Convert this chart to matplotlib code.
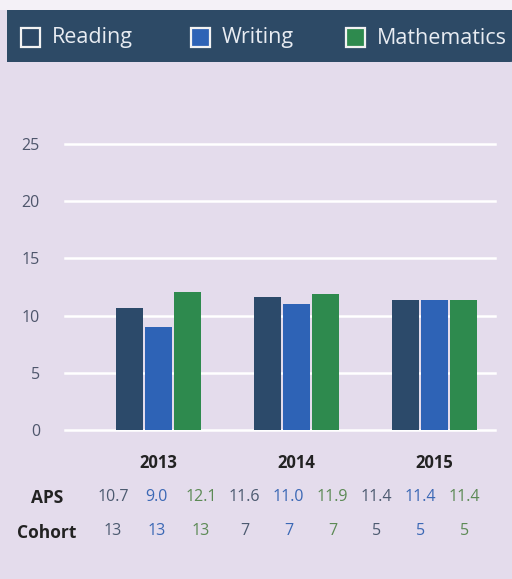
import matplotlib.pyplot as plt
from matplotlib.patches import Rectangle, FancyBboxPatch
import numpy as np

years = ['2013', '2014', '2015']
subjects = ['Reading', 'Writing', 'Mathematics']
reading = [10.7, 11.6, 11.4]
writing = [9.0, 11.0, 11.4]
maths = [12.1, 11.9, 11.4]
cohort_reading = [13, 7, 5]
cohort_writing = [13, 7, 5]
cohort_maths = [13, 7, 5]

bar_colors = ['#2c4a6a', '#2e63b6', '#2e8a4e']
text_colors = ['#4c5a70', '#3b68b5', '#5c8a55']
BG = '#e4dcec'
HEADER = '#2d4a66'

plt.rcParams['font.family'] = ['Open Sans', 'DejaVu Sans']

W, H = 512, 579
fig = plt.figure(figsize=(W / 100, H / 100), dpi=100)
fig.patch.set_facecolor(BG)


def fx(px):
    return px / W


def fy(py):
    return 1 - py / H


# top white strip and header band
fig.patches.append(Rectangle((0, fy(10)), 1, 1 - fy(10), transform=fig.transFigure,
                             facecolor='#f4f1f7', edgecolor='none', zorder=0))
fig.patches.append(FancyBboxPatch((fx(7), fy(62)), fx(520) - fx(7), fy(10) - fy(62),
                                  boxstyle='round,pad=0,rounding_size=0.02',
                                  transform=fig.transFigure, facecolor=HEADER,
                                  edgecolor='none', zorder=1))
fig.patches.append(Rectangle((fx(7), fy(40)), fx(520) - fx(7), fy(10) - fy(40),
                             transform=fig.transFigure, facecolor=HEADER,
                             edgecolor='none', zorder=1))
fig.patches.append(Rectangle((fx(7), fy(62)), fx(40) - fx(7), fy(10) - fy(62),
                             transform=fig.transFigure, facecolor=HEADER,
                             edgecolor='none', zorder=1))

# legend in the header
leg_x = [21, 191, 346]
sq_fill = ['#2c4866', bar_colors[1], bar_colors[2]]
for lx, name, fc in zip(leg_x, subjects, sq_fill):
    fig.patches.append(Rectangle((fx(lx), fy(47)), fx(19), 19 / H, transform=fig.transFigure,
                                 facecolor=fc, edgecolor='#f2f2f2', linewidth=1.6, zorder=2))
    fig.text(fx(lx + 31), fy(38), name, color='#e8ecf2', fontsize=15.5,
             va='center', ha='left', zorder=3)

# bar plot
ax = fig.add_axes([fx(65), fy(430), fx(495) - fx(65), fy(144) - fy(430)])
ax.set_facecolor('none')
x = np.arange(len(years))
w = 0.195
step = 0.21
for i, vals in enumerate([reading, writing, maths]):
    ax.bar(x + (i - 1) * step, vals, width=w, color=bar_colors[i], zorder=3)

ax.set_ylim(0, 25)
ax.set_xlim(-0.674, 2.44)
for v in range(0, 30, 5):
    ax.axhline(v, color='white', linewidth=1.8, zorder=1, clip_on=False)
ax.set_yticks(range(0, 30, 5))
ax.tick_params(axis='y', length=0, pad=18, labelsize=11.5, labelcolor='#4e566c')
ax.set_xticks(x)
ax.set_xticklabels(years, fontweight='bold', fontsize=12, color='#222222')
ax.tick_params(axis='x', length=0, pad=17)
for s in ax.spines.values():
    s.set_visible(False)

# APS and cohort rows
col_x = [113 + 43.9 * k for k in range(9)]
aps = []
coh = []
for j in range(len(years)):
    aps += [reading[j], writing[j], maths[j]]
    coh += [cohort_reading[j], cohort_writing[j], cohort_maths[j]]
fig.text(fx(47), fy(498), 'APS', fontweight='bold', fontsize=12.5, ha='center', va='center', color='#222222')
fig.text(fx(47), fy(533), 'Cohort', fontweight='bold', fontsize=12.5, ha='center', va='center', color='#222222')
for k in range(9):
    c = text_colors[k % 3]
    fig.text(fx(col_x[k]), fy(497), f'{aps[k]:.1f}', fontsize=11.5, ha='center', va='center', color=c)
    fig.text(fx(col_x[k]), fy(531), f'{coh[k]}', fontsize=11.5, ha='center', va='center', color=c)

fig.savefig('out.png', dpi=100, facecolor=fig.get_facecolor())
